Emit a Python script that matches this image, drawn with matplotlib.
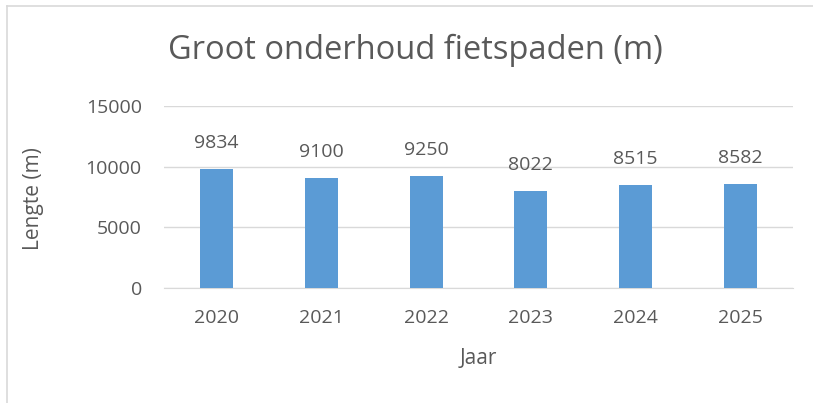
import matplotlib.pyplot as plt
from matplotlib.lines import Line2D

jaren = ['2020', '2021', '2022', '2023', '2024', '2025']
lengte = [9834, 9100, 9250, 8022, 8515, 8582]

plt.rcParams['font.family'] = ['Open Sans', 'DejaVu Sans']
tekst = '#595959'

fig = plt.figure(figsize=(8.13, 4.03), dpi=100)
ax = fig.add_axes([0.2017, 0.2854, 0.7737, 0.4516])

x = range(len(jaren))
bars = ax.bar(x, lengte, width=0.315, color='#5B9BD5', zorder=3)
for xi, v in zip(x, lengte):
    ax.annotate(str(v), (xi, v), xytext=(0, 12), textcoords='offset points',
                ha='center', va='bottom', fontsize=14, color=tekst)

ax.set_xlim(-0.5, len(jaren) - 0.5)
ax.set_ylim(0, 15000)
ax.set_yticks([0, 5000, 10000, 15000])
ax.set_xticks(list(x))
ax.set_xticklabels(jaren)
ax.tick_params(axis='both', length=0, labelsize=14, colors=tekst)
ax.tick_params(axis='y', pad=16)
ax.tick_params(axis='x', pad=15)
ax.grid(axis='y', color='#d9d9d9', linewidth=1, zorder=0)
for s in ['top', 'right', 'left']:
    ax.spines[s].set_visible(False)
ax.spines['bottom'].set_color('#d9d9d9')

ax.set_xlabel('Jaar', fontsize=15, color=tekst, va='center')
ax.xaxis.set_label_coords(0.499, -0.385)
ax.set_ylabel('Lengte (m)', fontsize=15, color=tekst, va='center')
ax.yaxis.set_label_coords(-0.208, 0.494)
fig.text(0.511, 0.876, 'Groot onderhoud fietspaden (m)', ha='center', va='center',
         fontsize=23.5, color=tekst)

# chart border
fig.add_artist(Line2D([7/813, 7/813], [0, 1 - 6/403], color='#d9d9d9', lw=1.2))
fig.add_artist(Line2D([7/813, 1], [1 - 6/403, 1 - 6/403], color='#d9d9d9', lw=1.2))

fig.savefig('out.png', dpi=100)
